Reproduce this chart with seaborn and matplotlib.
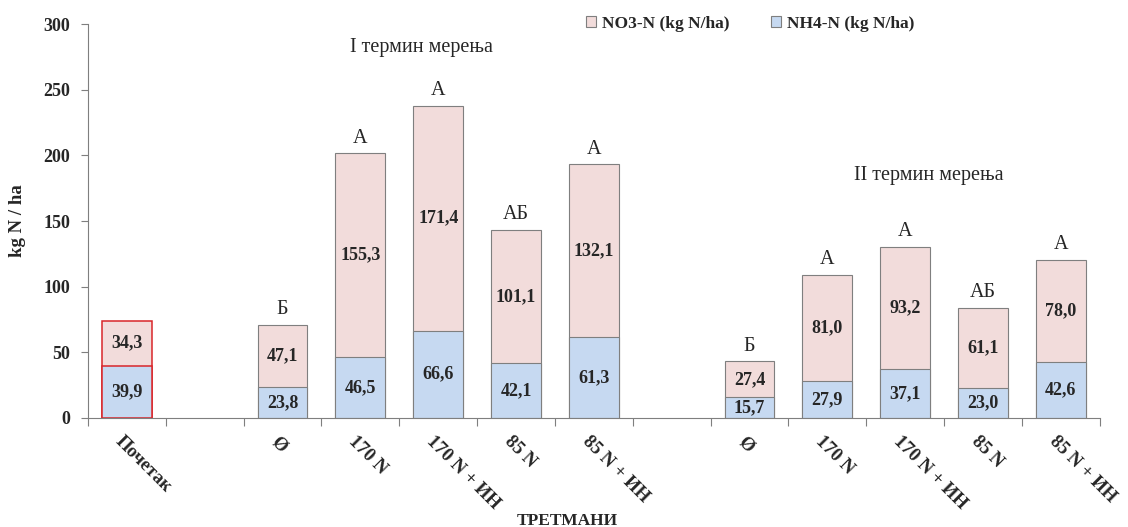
import numpy as np
import pandas as pd
import matplotlib
matplotlib.use("Agg")
import matplotlib.pyplot as plt
import matplotlib.transforms as mtransforms
from matplotlib.patches import Patch
import seaborn as sns

# category slots (13 positions, two empty spacers)
labels = ["Почетак", "", "Ø", "170 N", "170 N + ИН", "85 N", "85 N + ИН",
          "", "Ø", "170 N", "170 N + ИН", "85 N", "85 N + ИН"]
positions = [0, 2, 3, 4, 5, 6, 8, 9, 10, 11, 12]
nh4 = [39.9, 23.8, 46.5, 66.6, 42.1, 61.3, 15.7, 27.9, 37.1, 23.0, 42.6]
no3 = [34.3, 47.1, 155.3, 171.4, 101.1, 132.1, 27.4, 81.0, 93.2, 61.1, 78.0]
letters = ["", "Б", "А", "А", "АБ", "А", "Б", "А", "А", "АБ", "А"]

df = pd.DataFrame({"pos": positions, "nh4": nh4, "no3": no3, "letter": letters})
df["total"] = df["nh4"] + df["no3"]

c_no3 = "#f2dcdb"
c_nh4 = "#c6d9f1"
edge = "#7f7f7f"
serif = ["Liberation Serif", "DejaVu Serif"]

sns.set_style("white")
plt.rcParams["font.family"] = serif

fig = plt.figure(figsize=(11.28, 5.27), dpi=100)
ax = fig.add_axes([0.078, 0.207, 0.897, 0.747])

order = list(range(len(labels)))
sns.barplot(data=df, x="pos", y="total", order=order, color=c_no3, width=0.64,
            edgecolor=edge, linewidth=0.8, saturation=1, ax=ax)
sns.barplot(data=df, x="pos", y="nh4", order=order, color=c_nh4, width=0.64,
            edgecolor=edge, linewidth=0.8, saturation=1, ax=ax)

# first bar (starting state) outlined in red
for cont in ax.containers:
    for p in cont.patches:
        if abs(p.get_x() + p.get_width() / 2) < 0.01:
            p.set_edgecolor("#d9262a")
            p.set_linewidth(1.1)

# value labels and significance letters
for _, r in df.iterrows():
    ax.text(r.pos, r.nh4 / 2, f"{r.nh4:.1f}".replace(".", ","), ha="center", va="center",
            fontsize=13, fontweight="bold")
    ax.text(r.pos, r.nh4 + r.no3 / 2, f"{r.no3:.1f}".replace(".", ","), ha="center",
            va="center", fontsize=13, fontweight="bold")
    if r.letter:
        ax.annotate(r.letter, (r.pos, r.total), xytext=(0, 4), textcoords="offset points",
                    ha="center", va="bottom", fontsize=14.5)

ax.text(3.79, 282.5, "I термин мерења", ha="center", va="center", fontsize=14.5)
ax.text(10.3, 185, "II термин мерења", ha="center", va="center", fontsize=14.5)

ax.set_xlim(-0.5, len(labels) - 0.5)
ax.set_ylim(0, 300)
ax.set_yticks(np.arange(0, 301, 50))
ax.set_yticklabels([str(v) for v in range(0, 301, 50)], fontsize=13, fontweight="bold")

# ticks at category boundaries, labels at centers
ax.set_xticks(np.arange(-0.5, len(labels), 1.0))
ax.set_xticklabels([])
ax.set_xticks(order, minor=True)
ax.set_xticklabels(labels, minor=True, rotation=-45, ha="left", va="top",
                   rotation_mode="anchor", fontsize=13.5, fontweight="bold")
ax.tick_params(axis="x", which="major", length=6, color=edge, direction="out", bottom=True)
ax.tick_params(axis="x", which="minor", length=0, pad=11)
ax.tick_params(axis="y", length=5, color=edge, direction="out", left=True, pad=8)
offset = mtransforms.ScaledTranslation(-3 / 100, 0, fig.dpi_scale_trans)
for t in ax.xaxis.get_minorticklabels():
    t.set_transform(t.get_transform() + offset)

for s in ["top", "right"]:
    ax.spines[s].set_visible(False)
for s in ["left", "bottom"]:
    ax.spines[s].set_color(edge)
    ax.spines[s].set_linewidth(0.8)

ax.set_xlabel("")
ax.set_ylabel("kg N / ha", fontsize=13.5, fontweight="bold", labelpad=12)
fig.text(0.503, 0.015, "ТРЕТМАНИ", ha="center", va="center_baseline", fontsize=12.5,
         fontweight="bold")

handles = [Patch(facecolor=c_no3, edgecolor=edge, linewidth=0.8),
           Patch(facecolor=c_nh4, edgecolor=edge, linewidth=0.8)]
fig.legend(handles, ["NO3-N (kg N/ha)", "NH4-N (kg N/ha)"], loc="upper center",
           bbox_to_anchor=(0.665, 1.0), ncol=2, frameon=False, handlelength=0.55,
           handleheight=0.55, handletextpad=0.35, columnspacing=2.4,
           prop={"family": serif, "weight": "bold", "size": 12.5})

fig.savefig("out.png", dpi=100)
